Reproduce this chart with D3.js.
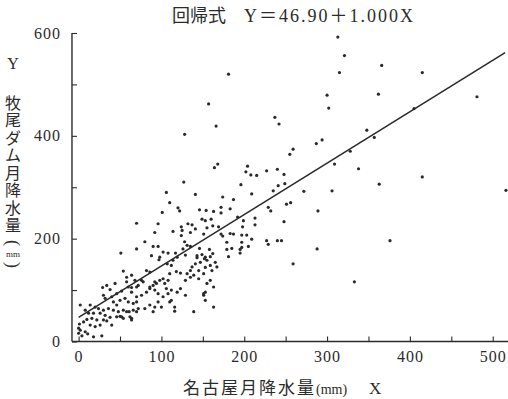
<!DOCTYPE html>
<html>
<head>
<meta charset="utf-8">
<script src="https://cdn.jsdelivr.net/npm/d3@7"></script>
<style>
  body { margin: 0; background: #fff; }
  svg { display: block; }
</style>
</head>
<body>
<svg width="508" height="399"></svg>
<script>
  // 回帰式 Y = a + bX
  const intercept = 46.90;
  const slope = 1.000;

  // 名古屋月降水量 (X) / 牧尾ダム月降水量 (Y), mm
  const nagoya = [
    313, 321, 315, 366, 415, 300, 362, 302, 481, 348, 357, 287, 294, 405, 328, 309, 338, 415, 363, 272,
    306, 516, 249, 251, 256, 289, 248, 245, 376, 288, 259, 333, 181, 157, 237, 242, 166, 128, 259, 255,
    168, 164, 204, 202, 208, 215, 227, 240, 248, 127, 196, 241, 106, 141, 174, 209, 187, 235, 110, 120,
    122, 146, 154, 163, 172, 172, 183, 229, 232, 101, 149, 153, 160, 192, 213, 199, 96, 132, 137, 162,
    124, 169, 213, 92, 114, 125, 124, 135, 141, 172, 174, 183, 197, 203, 197, 209, 205, 229, 240, 90,
    96, 128, 131, 135, 126, 146, 158, 179, 195, 88, 98, 108, 117, 129, 143, 149, 153, 181, 155, 198,
    187, 227, 151, 179, 197, 185, 195, 162, 70, 80, 102, 51, 70, 97, 114, 107, 112, 143, 147, 155,
    159, 153, 141, 131, 135, 123, 118, 110, 54, 64, 82, 86, 76, 68, 58, 60, 64, 52, 46, 34,
    29, 38, 30, 32, 40, 42, 46, 50, 56, 60, 66, 70, 76, 82, 86, 90, 94, 98, 104, 108,
    92, 96, 102, 108, 112, 119, 123, 129, 135, 139, 145, 151, 155, 151, 139, 116, 110, 96, 100, 92,
    86, 90, 80, 72, 70, 64, 61, 54, 48, 42, 36, 30, 24, 20, 14, 2, 8, 12, 18, 26,
    32, 38, 46, 50, 54, 30, 22, 16, 10, 6, 1, 14, 20, 26, 40, 34, 2, 0, 8, 18,
    28, 11, 4, 0, 165, 167, 161, 159, 163, 153, 44, 64, 66, 58, 62, 52, 64, 72, 58, 119,
    152, 159, 137, 145, 102, 92, 78, 70, 106, 86, 129, 112, 151, 153, 163, 116, 70
  ];
  const makio = [
    592, 556, 523, 537, 523, 479, 481, 454, 476, 411, 397, 385, 392, 453, 370, 345, 336, 320, 306, 292,
    293, 294, 307, 267, 270, 254, 233, 196, 196, 180, 151, 116, 520, 462, 436, 423, 419, 403, 374, 364,
    345, 338, 341, 330, 324, 323, 332, 335, 325, 310, 305, 303, 290, 286, 281, 287, 276, 293, 270, 260,
    254, 256, 255, 253, 261, 250, 258, 261, 254, 251, 238, 235, 238, 242, 240, 235, 229, 229, 227, 225,
    223, 223, 227, 212, 214, 216, 206, 212, 219, 209, 205, 210, 207, 207, 193, 199, 185, 189, 196, 185,
    185, 194, 187, 185, 180, 181, 179, 179, 179, 167, 164, 172, 172, 168, 167, 169, 164, 165, 221, 223,
    209, 196, 209, 193, 183, 181, 172, 171, 230, 194, 174, 172, 180, 159, 158, 151, 148, 163, 154, 158,
    148, 144, 151, 132, 138, 133, 136, 132, 137, 129, 138, 135, 119, 119, 116, 106, 105, 98, 93, 109,
    105, 101, 90, 84, 87, 77, 71, 80, 84, 77, 74, 87, 90, 96, 103, 109, 113, 119, 113, 119,
    100, 93, 87, 93, 100, 96, 103, 119, 125, 129, 122, 132, 113, 93, 58, 59, 77, 77, 67, 67,
    71, 58, 64, 64, 58, 45, 58, 61, 58, 61, 64, 61, 64, 67, 71, 71, 61, 55, 55, 55,
    51, 47, 48, 49, 45, 42, 42, 45, 43, 38, 34, 32, 29, 32, 32, 40, 22, 26, 19, 9,
    11, 15, 11, 16, 154, 145, 138, 119, 106, 96, 113, 42, 61, 58, 48, 48, 96, 109, 125, 164,
    161, 165, 145, 138, 122, 116, 116, 106, 103, 106, 90, 80, 90, 80, 67, 67, 77
  ];

  const xTicks = d3.range(0, 501, 50);
  const xLabels = [0, 100, 200, 300, 400, 500];
  const yTicks = d3.range(0, 601, 100);
  const yLabels = [0, 200, 400, 600];
  const yTitleChars = ["牧", "尾", "ダ", "ム", "月", "降", "水", "量"];

  const ink = "#2b2b2b";
  const serif = "'Liberation Serif', 'DejaVu Serif', 'Noto Sans CJK JP', serif";

  const svg = d3.select("svg");
  const x = d3.scaleLinear().domain([0, 500]).range([78.6, 492.7]);
  const y = d3.scaleLinear().domain([0, 600]).range([341.5, 33]);

  // axis lines
  svg.append("line")
    .attr("x1", x(-8)).attr("x2", x(-8))
    .attr("y1", y(600)).attr("y2", y(0))
    .attr("stroke", ink).attr("stroke-width", 1.4);
  svg.append("line")
    .attr("x1", x(-8)).attr("x2", x(525))
    .attr("y1", y(0)).attr("y2", y(0))
    .attr("stroke", ink).attr("stroke-width", 1.4);

  // y axis
  const yAxis = svg.append("g")
    .attr("transform", `translate(${x(-8)},0)`)
    .call(d3.axisLeft(y).tickValues(yTicks).tickSizeInner(-5).tickSizeOuter(0).tickPadding(11)
      .tickFormat(d => yLabels.includes(d) ? d : ""));
  yAxis.select(".domain").remove();

  // x axis
  const xAxis = svg.append("g")
    .attr("transform", `translate(0,${y(0)})`)
    .call(d3.axisBottom(x).tickValues(xTicks).tickSizeInner(-5).tickSizeOuter(0).tickPadding(9)
      .tickFormat(d => xLabels.includes(d) ? d : ""));
  xAxis.select(".domain").remove();

  svg.selectAll(".tick line").attr("stroke", ink).attr("stroke-width", 1.1);
  svg.selectAll(".tick text")
    .attr("fill", ink)
    .style("font-family", serif)
    .style("font-size", "16px")
    .style("letter-spacing", "1px");

  // regression line
  const line = d3.line().x(d => x(d)).y(d => y(intercept + slope * d));
  svg.append("path")
    .datum([0, 515])
    .attr("d", line)
    .attr("fill", "none")
    .attr("stroke", ink)
    .attr("stroke-width", 1.6);

  // points
  svg.append("g")
    .selectAll("circle")
    .data(nagoya.map((d, i) => [d, makio[i]]))
    .join("circle")
    .attr("cx", d => x(d[0]))
    .attr("cy", d => y(d[1]))
    .attr("r", 1.6)
    .attr("fill", "#2a2a2a");

  // title
  const title = svg.append("text")
    .attr("x", 172).attr("y", 22)
    .attr("fill", ink)
    .style("font-family", serif)
    .style("font-size", "18px");
  title.append("tspan").text("回帰式");
  title.append("tspan").attr("dx", 18)
    .style("letter-spacing", "2px")
    .text(`Y＝${intercept.toFixed(2)}＋${slope.toFixed(3)}X`);

  // y title
  svg.append("text")
    .attr("x", 13).attr("y", 69)
    .attr("text-anchor", "middle")
    .attr("fill", ink)
    .style("font-family", serif)
    .style("font-size", "16px")
    .text("Y");
  svg.append("g").selectAll("text")
    .data(yTitleChars)
    .join("text")
    .attr("x", 13)
    .attr("y", (d, i) => 103 + i * 17.5)
    .attr("dominant-baseline", "central")
    .attr("text-anchor", "middle")
    .attr("fill", ink)
    .style("font-family", serif)
    .style("font-size", "16px")
    .text(d => d);
  // vertical (mm)
  const yUnit = svg.append("g").attr("fill", ink).style("font-family", serif);
  yUnit.append("text")
    .attr("x", 13).attr("y", 243)
    .attr("transform", "rotate(90,13,243)")
    .attr("dominant-baseline", "central").attr("text-anchor", "middle")
    .style("font-size", "18px").text("(");
  yUnit.append("text")
    .attr("x", 13).attr("y", 254)
    .attr("dominant-baseline", "central").attr("text-anchor", "middle")
    .style("font-size", "9px").text("mm");
  yUnit.append("text")
    .attr("x", 13).attr("y", 265)
    .attr("transform", "rotate(90,13,265)")
    .attr("dominant-baseline", "central").attr("text-anchor", "middle")
    .style("font-size", "18px").text(")");

  // x title
  const xt = svg.append("text")
    .attr("x", 183).attr("y", 394)
    .attr("fill", ink)
    .style("font-family", serif)
    .style("font-size", "17px");
  xt.append("tspan").style("letter-spacing", "2px").text("名古屋月降水量");
  xt.append("tspan").style("font-size", "14px").text("(mm)");
  xt.append("tspan").attr("dx", 22).text("X");
</script>
</body>
</html>
